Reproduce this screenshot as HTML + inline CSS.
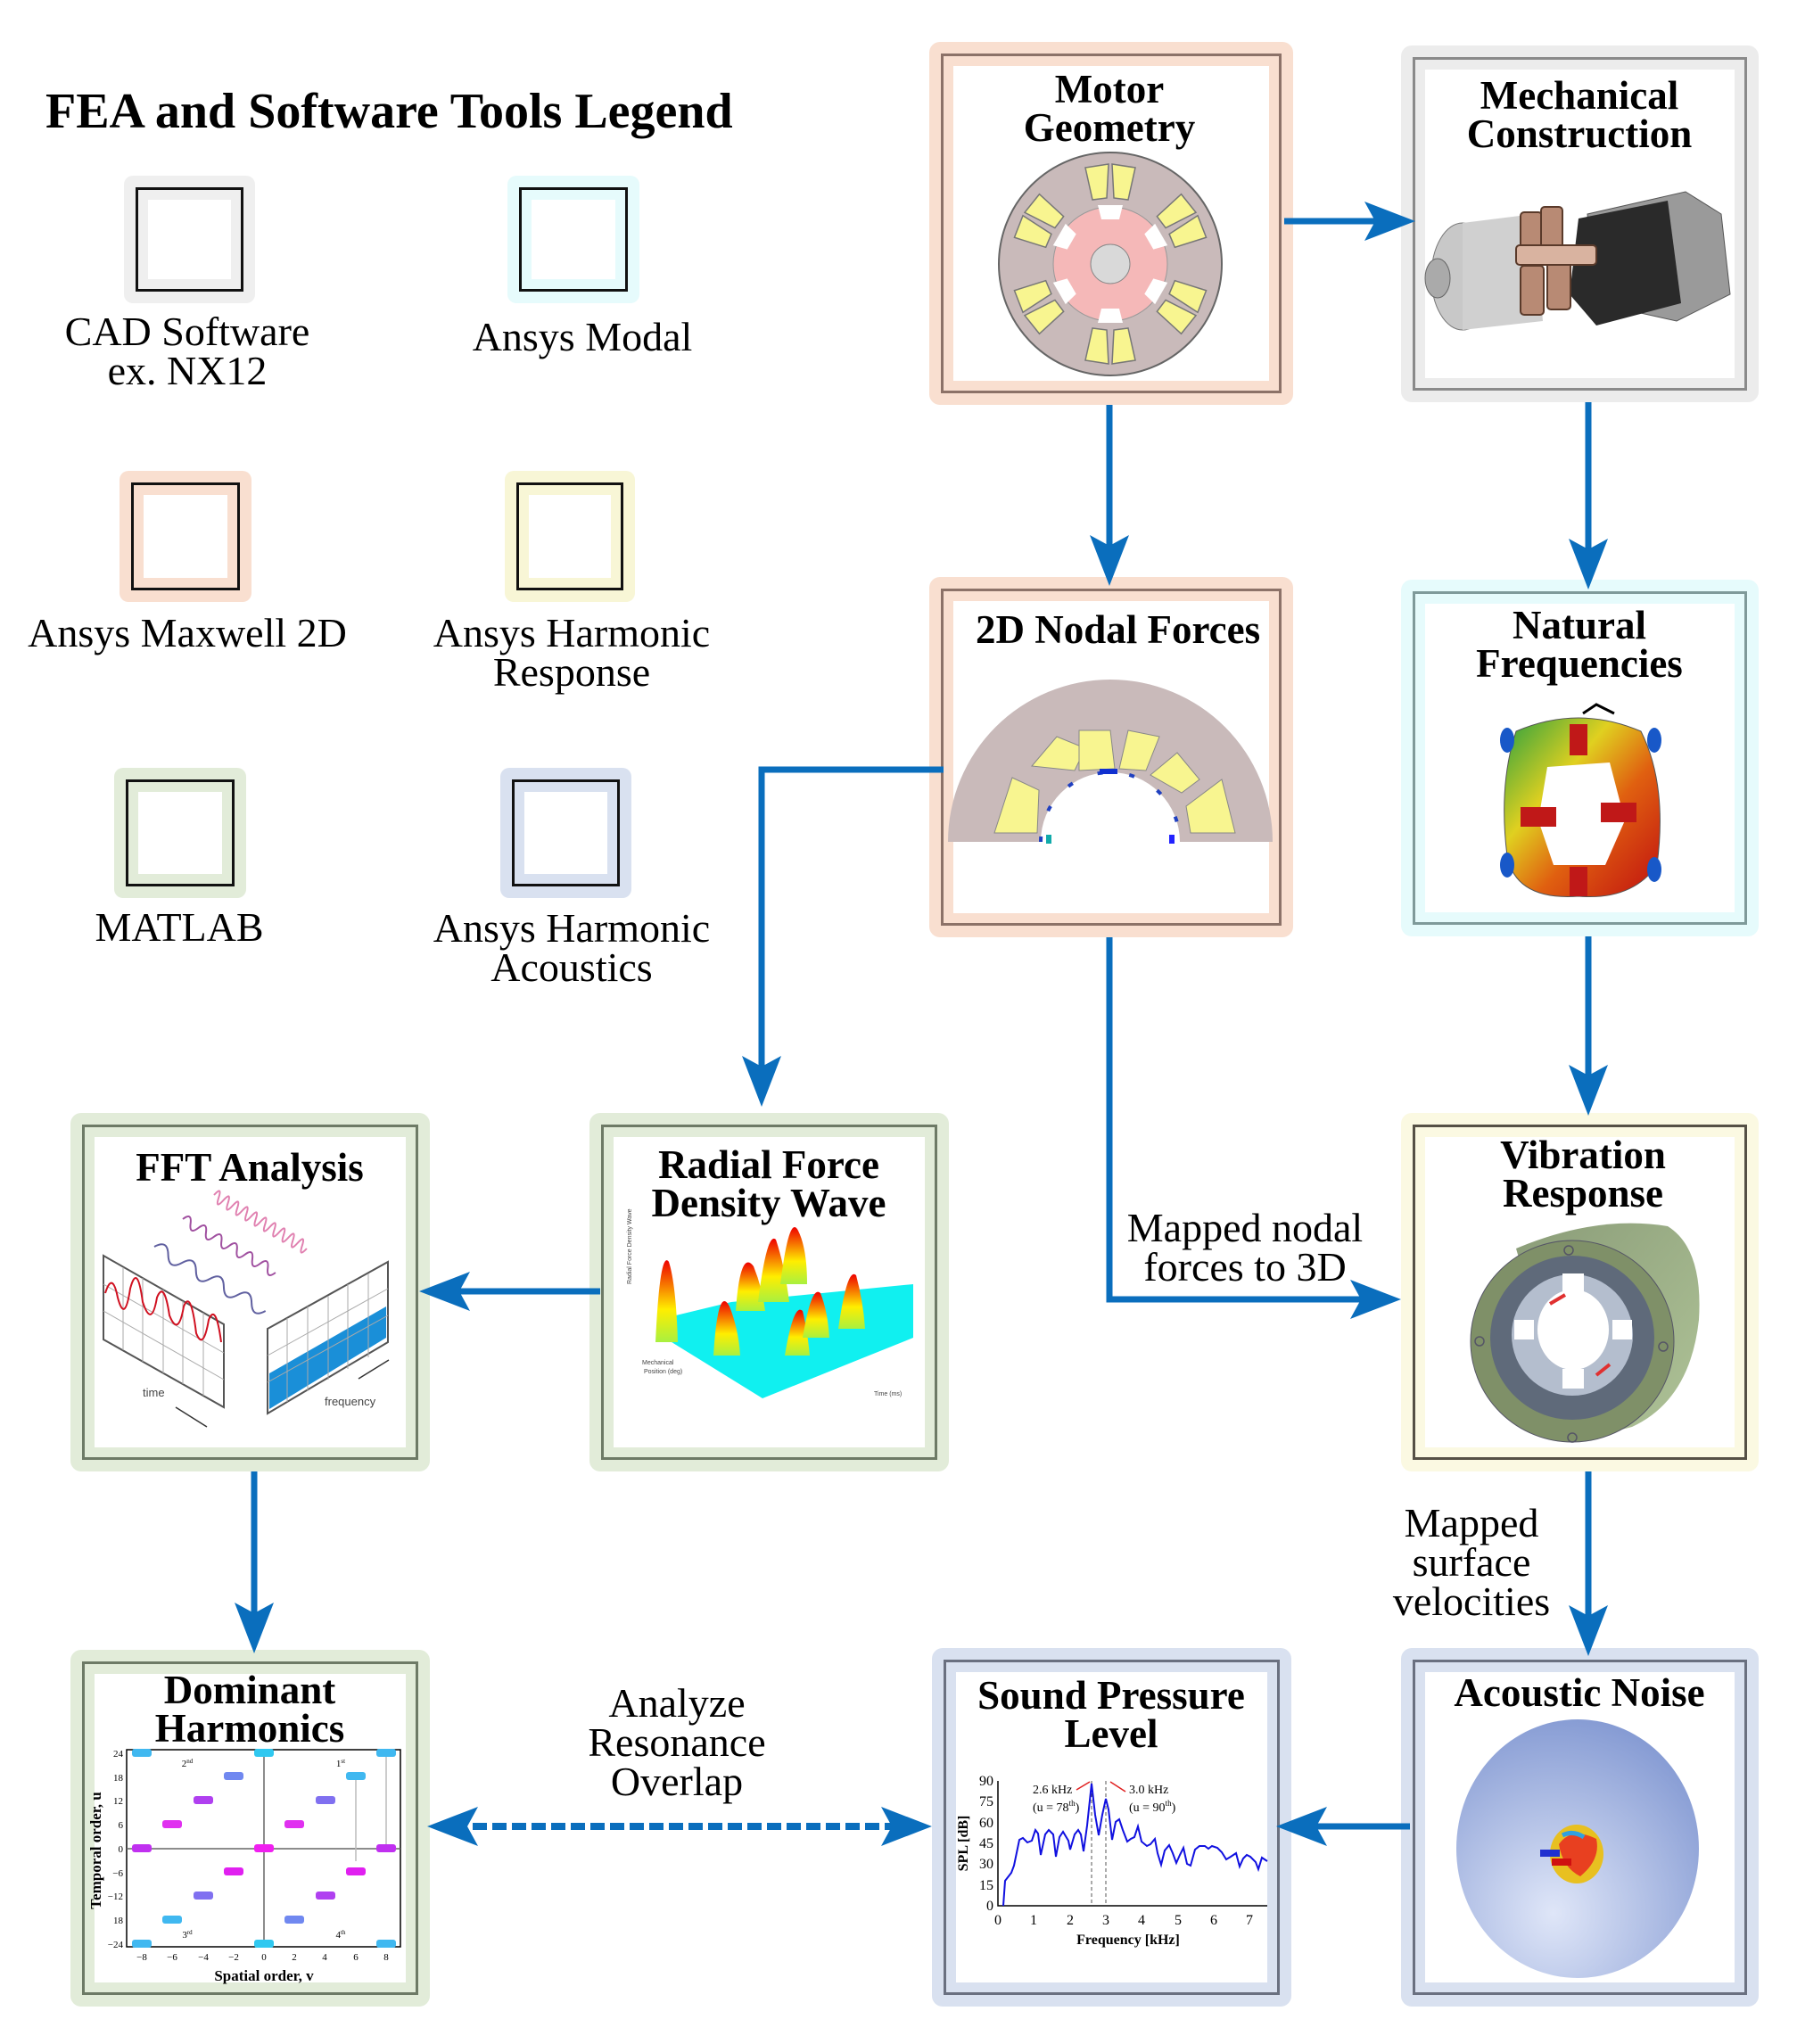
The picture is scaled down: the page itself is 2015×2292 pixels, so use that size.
<!DOCTYPE html>
<html><head><meta charset="utf-8"><style>
body{margin:0;width:2015px;height:2292px;background:#fff;position:relative;overflow:hidden;font-family:"Liberation Serif",serif;}
.box{position:absolute;border-radius:12px;box-sizing:border-box;}
.box .in{position:absolute;left:13px;top:13px;right:13px;bottom:13px;border:3px solid #777;box-sizing:border-box;}
.box .wh{position:absolute;left:11px;top:11px;right:11px;bottom:11px;background:#fff;}
.t{position:absolute;font-weight:bold;font-size:45px;line-height:43px;text-align:center;color:#000;white-space:nowrap;}
.l{position:absolute;font-size:46px;line-height:44px;text-align:center;color:#000;white-space:nowrap;}
.lg{position:absolute;border-radius:10px;}
.lg div{position:absolute;left:13px;top:13px;right:13px;bottom:13px;border:3px solid #111;}
.lg div div{left:11px;top:11px;right:11px;bottom:11px;border:none;background:#fff;}
svg{position:absolute;left:0;top:0;}
</style></head><body>

<div class="t" style="left:51px;top:97px;font-size:56px;line-height:56px;">FEA and Software Tools Legend</div>

<div class="lg" style="left:139px;top:197px;width:147px;height:143px;background:#efefef"><div style="background:#efefef"><div></div></div></div>
<div class="lg" style="left:569px;top:197px;width:148px;height:143px;background:#e6fbfc"><div style="background:#e6fbfc"><div></div></div></div>
<div class="lg" style="left:134px;top:528px;width:148px;height:147px;background:#f9dfd0"><div style="background:#f9dfd0"><div></div></div></div>
<div class="lg" style="left:566px;top:528px;width:146px;height:147px;background:#f8f6d6"><div style="background:#f8f6d6"><div></div></div></div>
<div class="lg" style="left:128px;top:861px;width:148px;height:146px;background:#e2ecd9"><div style="background:#e2ecd9"><div></div></div></div>
<div class="lg" style="left:561px;top:861px;width:147px;height:146px;background:#d9e1f0"><div style="background:#d9e1f0"><div></div></div></div>

<div class="l" style="left:60px;top:350px;width:300px;">CAD Software<br>ex. NX12</div>
<div class="l" style="left:503px;top:356px;width:300px;">Ansys Modal</div>
<div class="l" style="left:10px;top:688px;width:400px;">Ansys Maxwell 2D</div>
<div class="l" style="left:441px;top:688px;width:400px;">Ansys Harmonic<br>Response</div>
<div class="l" style="left:51px;top:1018px;width:300px;">MATLAB</div>
<div class="l" style="left:441px;top:1019px;width:400px;">Ansys Harmonic<br>Acoustics</div>

<div class="box" style="left:1042px;top:47px;width:408px;height:407px;background:#f9dfd0"><div class="in" style="border-color:#8c7268"><div class="wh"></div></div></div>
<div class="box" style="left:1571px;top:51px;width:401px;height:400px;background:#ececec"><div class="in" style="border-color:#8a8a8a"><div class="wh"></div></div></div>
<div class="box" style="left:1042px;top:647px;width:408px;height:404px;background:#f9dfd0"><div class="in" style="border-color:#8c7268"><div class="wh"></div></div></div>
<div class="box" style="left:1571px;top:650px;width:401px;height:400px;background:#e6fbfc"><div class="in" style="border-color:#7f9a9a"><div class="wh"></div></div></div>
<div class="box" style="left:79px;top:1248px;width:403px;height:402px;background:#e2ecd9"><div class="in" style="border-color:#6d7a66"><div class="wh"></div></div></div>
<div class="box" style="left:661px;top:1248px;width:403px;height:402px;background:#e2ecd9"><div class="in" style="border-color:#6d7a66"><div class="wh"></div></div></div>
<div class="box" style="left:1571px;top:1248px;width:401px;height:402px;background:#fbf9e2"><div class="in" style="border-color:#555045"><div class="wh"></div></div></div>
<div class="box" style="left:79px;top:1850px;width:403px;height:400px;background:#e2ecd9"><div class="in" style="border-color:#6d7a66"><div class="wh"></div></div></div>
<div class="box" style="left:1045px;top:1848px;width:403px;height:402px;background:#d9e1f0"><div class="in" style="border-color:#6a7080"><div class="wh"></div></div></div>
<div class="box" style="left:1571px;top:1848px;width:401px;height:402px;background:#d9e1f0"><div class="in" style="border-color:#6a7080"><div class="wh"></div></div></div>

<div class="t" style="left:1094px;top:79px;width:300px;">Motor<br>Geometry</div>
<div class="t" style="left:1621px;top:86px;width:300px;">Mechanical<br>Construction</div>
<div class="t" style="left:1094px;top:685px;width:300px;">2D Nodal Forces</div>
<div class="t" style="left:1621px;top:680px;width:300px;">Natural<br>Frequencies</div>
<div class="t" style="left:130px;top:1288px;width:300px;">FFT Analysis</div>
<div class="t" style="left:712px;top:1285px;width:300px;">Radial Force<br>Density Wave</div>
<div class="t" style="left:1625px;top:1274px;width:300px;">Vibration<br>Response</div>
<div class="t" style="left:130px;top:1874px;width:300px;">Dominant<br>Harmonics</div>
<div class="t" style="left:1096px;top:1880px;width:300px;">Sound Pressure<br>Level</div>
<div class="t" style="left:1621px;top:1877px;width:300px;">Acoustic Noise</div>

<div class="l" style="left:1246px;top:1355px;width:300px;">Mapped nodal<br>forces to 3D</div>
<div class="l" style="left:1500px;top:1686px;width:300px;">Mapped<br>surface<br>velocities</div>
<div class="l" style="left:609px;top:1888px;width:300px;">Analyze<br>Resonance<br>Overlap</div>

<svg width="2015" height="2292" viewBox="0 0 2015 2292">
<defs>
<linearGradient id="pk" x1="0" y1="1" x2="0" y2="0"><stop offset="0" stop-color="#a8f040"/><stop offset="0.4" stop-color="#ffee00"/><stop offset="1" stop-color="#ee0000"/></linearGradient>
<linearGradient id="nf" x1="0" y1="0" x2="1" y2="1"><stop offset="0" stop-color="#2aa040"/><stop offset="0.35" stop-color="#e0d020"/><stop offset="0.6" stop-color="#e06010"/><stop offset="1" stop-color="#c01010"/></linearGradient>
<radialGradient id="ac" cx="0.4" cy="0.75" r="0.8"><stop offset="0" stop-color="#dfe6f8"/><stop offset="1" stop-color="#8298d2"/></radialGradient>
<linearGradient id="gr" x1="0" y1="0" x2="1" y2="1"><stop offset="0" stop-color="#8a9c78"/><stop offset="1" stop-color="#b0c498"/></linearGradient>
</defs>

<g stroke="#0a6ebd" stroke-width="7" fill="none">
<path d="M1440 248 H1560"/>
<path d="M1244 454 V630"/>
<path d="M1781 451 V635"/>
<path d="M1058 863 H854 V1215"/>
<path d="M1244 1051 V1457 H1545"/>
<path d="M1781 1050 V1225"/>
<path d="M673 1448 H495"/>
<path d="M285 1650 V1828"/>
<path d="M1781 1650 V1830"/>
<path d="M1581 2048 H1455"/>
<path d="M508 2048 H1018" stroke-dasharray="16 6" stroke-width="8"/>
</g>
<g fill="#0a6ebd">
<path d="M1587 248 L1530 226 L1542 248 L1530 270Z"/>
<path d="M1244 657 L1222 600 L1244 612 L1266 600Z"/>
<path d="M1781 661 L1759 604 L1781 616 L1803 604Z"/>
<path d="M854 1241 L832 1184 L854 1196 L876 1184Z"/>
<path d="M1571 1457 L1514 1435 L1526 1457 L1514 1479Z"/>
<path d="M1781 1251 L1759 1194 L1781 1206 L1803 1194Z"/>
<path d="M470 1448 L527 1426 L515 1448 L527 1470Z"/>
<path d="M285 1854 L263 1797 L285 1809 L307 1797Z"/>
<path d="M1781 1857 L1759 1800 L1781 1812 L1803 1800Z"/>
<path d="M1431 2048 L1488 2026 L1476 2048 L1488 2070Z"/>
<path d="M479 2048 L536 2026 L524 2048 L536 2070Z"/>
<path d="M1045 2048 L988 2026 L1000 2048 L988 2070Z"/>
</g>

<g transform="translate(1245,296)">
<ellipse rx="125" ry="125" fill="#c9baba" stroke="#666" stroke-width="2"/>
<g fill="#f8f590" stroke="#777" stroke-width="1.5">
<g id="sl"><path d="M-20 -72 L-28 -108 L-2 -112 L-4 -74Z"/><path d="M4 -74 L2 -112 L28 -108 L20 -72Z"/></g>
<use href="#sl" transform="rotate(60)"/><use href="#sl" transform="rotate(120)"/><use href="#sl" transform="rotate(180)"/><use href="#sl" transform="rotate(240)"/><use href="#sl" transform="rotate(300)"/>
</g>
<circle r="64" fill="#f5b8b8" stroke="#999"/>
<g fill="#fff"><g id="nt"><path d="M-14 -66 L14 -66 L10 -50 L-10 -50Z"/></g>
<use href="#nt" transform="rotate(60)"/><use href="#nt" transform="rotate(120)"/><use href="#nt" transform="rotate(180)"/><use href="#nt" transform="rotate(240)"/><use href="#nt" transform="rotate(300)"/></g>
<circle r="22" fill="#d9d9d9" stroke="#888"/>
</g>

<g>
<path d="M1780 240 L1890 215 L1930 240 L1940 330 L1880 360 L1790 340Z" fill="#9a9a9a" stroke="#555"/>
<path d="M1770 245 L1870 225 L1885 340 L1790 365 L1760 330Z" fill="#2a2a2a"/>
<ellipse cx="1640" cy="310" rx="35" ry="60" fill="#c8c8c8" stroke="#777"/>
<path d="M1640 250 L1720 240 L1730 360 L1640 370Z" fill="#d0d0d0"/>
<ellipse cx="1612" cy="312" rx="14" ry="22" fill="#aaa" stroke="#666"/>
<g fill="#b88a74" stroke="#5a3a2a" stroke-width="2">
<rect x="1705" y="238" width="24" height="60" rx="4"/><rect x="1728" y="232" width="24" height="60" rx="4"/>
<rect x="1705" y="298" width="26" height="55" rx="4"/><rect x="1735" y="292" width="26" height="55" rx="4"/>
<rect x="1700" y="275" width="90" height="22" rx="4" fill="#d9b3a0"/>
</g>
</g>

<g transform="translate(1245,944)">
<path d="M-182 0 A182 182 0 0 1 182 0 L78 0 A78 78 0 0 0 -78 0Z" fill="#c9baba"/>
<g fill="#f8f590" stroke="#888">
<path d="M-130 -10 L-110 -72 L-80 -58 L-82 -10Z"/>
<path d="M-88 -85 L-60 -118 L-28 -105 L-40 -80Z"/>
<path d="M-10 -80 L-10 -125 L25 -125 L30 -82Z" transform="translate(-25 0)"/>
<path d="M10 -82 L20 -125 L55 -118 L40 -80Z"/>
<path d="M45 -75 L75 -100 L100 -70 L80 -55Z"/>
<path d="M85 -40 L125 -70 L140 -10 L90 -10Z"/>
</g>
<path d="M-78 0 A78 78 0 0 1 78 0" fill="none" stroke="#2040c0" stroke-width="4" stroke-dasharray="6 30"/>
<rect x="-72" y="-8" width="6" height="10" fill="#1aa"/><rect x="66" y="-8" width="6" height="10" fill="#22f"/>
<rect x="-12" y="-82" width="20" height="6" fill="#1030d0"/>
</g>

<g>
<path d="M1700 820 Q1770 790 1840 820 Q1870 880 1858 970 Q1830 1010 1770 1005 Q1700 1010 1690 960 Q1680 880 1700 820Z" fill="url(#nf)" stroke="#555"/>
<path d="M1735 860 L1805 855 L1822 920 L1800 970 L1742 970 L1725 920Z" fill="#fff"/>
<g fill="#c01818"><rect x="1760" y="812" width="20" height="35"/><rect x="1795" y="900" width="40" height="22"/><rect x="1705" y="905" width="40" height="22"/><rect x="1760" y="972" width="20" height="33"/></g>
<g fill="#1858c8"><ellipse cx="1690" cy="830" rx="8" ry="14"/><ellipse cx="1855" cy="830" rx="8" ry="14"/><ellipse cx="1690" cy="970" rx="8" ry="14"/><ellipse cx="1855" cy="975" rx="8" ry="14"/></g>
<path d="M1775 800 L1790 790 L1810 800" stroke="#000" stroke-width="3" fill="none"/>
</g>

<g stroke="#555" stroke-width="2" fill="#fff">
<path d="M116 1408 L251 1485 L251 1578 L116 1502Z"/>
<path d="M300 1490 L435 1415 L435 1505 L300 1585Z"/>
</g>
<path d="M302 1575 L302 1540 L433 1465 L433 1500 L302 1580Z" fill="#1a8fd8"/>
<g stroke="#aaa" stroke-width="1" fill="none">
<path d="M138 1421 V1514 M160 1433 V1527 M183 1446 V1540 M205 1459 V1552 M228 1472 V1565 M116 1440 L251 1517 M116 1470 L251 1547"/>
<path d="M322 1478 V1572 M345 1465 V1560 M368 1453 V1547 M390 1440 V1535 M413 1428 V1522 M300 1520 L435 1445 M300 1550 L435 1475"/>
</g>
<path d="M118 1450 q8 -25 14 5 q8 30 14 -10 q8 -30 14 15 q10 30 16 -5 q8 -20 14 20 q10 25 16 -10 q8 -20 14 30 q8 20 14 -15 q8 -20 14 25" stroke="#d01020" stroke-width="2" fill="none"/>
<path d="M173 1398 q9 -15 18 0 t18 0 t18 0 t18 0 t18 0 t18 0 t18 0 t18 0" transform="rotate(30 173 1398)" stroke="#6060a0" stroke-width="2" fill="none"/>
<path d="M205 1367 q5 -12 10 0 t10 0 t10 0 t10 0 t10 0 t10 0 t10 0 t10 0 t10 0 t10 0 t10 0 t10 0" transform="rotate(30 205 1367)" stroke="#a050a0" stroke-width="2" fill="none"/>
<path d="M240 1340 q3 -14 6 0 t6 0 t6 0 t6 0 t6 0 t6 0 t6 0 t6 0 t6 0 t6 0 t6 0 t6 0 t6 0 t6 0 t6 0 t6 0 t6 0 t6 0 t6 0 t6 0" transform="rotate(30 240 1340)" stroke="#e080b0" stroke-width="2" fill="none"/>
<text x="160" y="1566" font-family="Liberation Sans" font-size="13" fill="#444">time</text>
<text x="364" y="1576" font-family="Liberation Sans" font-size="13" fill="#444">frequency</text>
<path d="M197 1578 L232 1600 M402 1546 L436 1525" stroke="#333" stroke-width="1.5"/>

<path d="M737 1480 L820 1460 L1024 1440 L1024 1500 L855 1568 L737 1495Z" fill="#10f0f0"/>
<g fill="url(#pk)">
<path d="M735 1505 Q740 1400 750 1415 Q758 1440 760 1505Z"/>
<path d="M800 1520 Q805 1440 818 1465 Q828 1490 830 1520Z"/>
<path d="M825 1470 Q830 1400 845 1420 Q855 1445 858 1470Z"/>
<path d="M850 1460 Q860 1380 870 1390 Q880 1420 885 1460Z"/>
<path d="M875 1440 Q885 1360 895 1380 Q905 1400 905 1440Z"/>
<path d="M880 1520 Q890 1460 900 1470 Q905 1490 908 1520Z"/>
<path d="M900 1500 Q910 1440 920 1450 Q928 1470 930 1500Z"/>
<path d="M940 1490 Q950 1420 960 1430 Q968 1460 970 1490Z"/>
</g>
<g font-family="Liberation Sans" font-size="7" fill="#444">
<text x="720" y="1530">Mechanical</text><text x="722" y="1540">Position (deg)</text><text x="980" y="1565">Time (ms)</text>
<text x="708" y="1440" transform="rotate(-90 708 1440)">Radial Force Density Wave</text>
</g>

<!-- Vibration -->
<g>
<path d="M1700 1400 Q1790 1362 1870 1375 Q1910 1400 1905 1480 Q1895 1570 1830 1600 L1763 1617 Z" fill="url(#gr)"/>
<ellipse cx="1763" cy="1504" rx="114" ry="113" fill="#7f9068" stroke="#556"/>
<ellipse cx="1763" cy="1500" rx="92" ry="92" fill="#5f6a7a"/>
<ellipse cx="1763" cy="1497" rx="68" ry="68" fill="#b4bece"/>
<ellipse cx="1764" cy="1491" rx="40" ry="45" fill="#fff"/>
<g fill="#fff"><rect x="1752" y="1428" width="24" height="22"/><rect x="1752" y="1535" width="24" height="22"/><rect x="1808" y="1480" width="22" height="22"/><rect x="1698" y="1480" width="22" height="22"/></g>
<g fill="none" stroke="#556" stroke-width="1.5"><circle cx="1759" cy="1329" r="0"/><circle cx="1759" cy="1402" r="5"/><circle cx="1659" cy="1504" r="5"/><circle cx="1865" cy="1510" r="5"/><circle cx="1763" cy="1612" r="5"/></g>
<path d="M1738 1462 L1755 1452 M1790 1542 L1805 1530" stroke="#e03030" stroke-width="4"/>
</g>

<!-- Acoustic -->
<ellipse cx="1769" cy="2073" rx="136" ry="145" fill="url(#ac)"/>
<ellipse cx="1768" cy="2079" rx="30" ry="33" fill="#e8c020"/>
<path d="M1748 2068 Q1762 2048 1790 2062 Q1795 2085 1772 2104 Q1752 2094 1748 2068Z" fill="#e84020"/>
<path d="M1752 2058 Q1764 2052 1776 2060" stroke="#30a0e0" stroke-width="5" fill="none"/>
<rect x="1727" y="2074" width="22" height="8" fill="#2030d0"/><rect x="1740" y="2084" width="22" height="8" fill="#d01010"/>

<g font-family="Liberation Serif" font-size="16" fill="#000">
<path d="M1119 1997 V2137 H1421" stroke="#000" stroke-width="1.5" fill="none"/>
<g text-anchor="end"><text x="1114" y="2002">90</text><text x="1114" y="2025">75</text><text x="1114" y="2049">60</text><text x="1114" y="2072">45</text><text x="1114" y="2095">30</text><text x="1114" y="2119">15</text><text x="1114" y="2142">0</text></g>
<g text-anchor="middle"><text x="1119" y="2158">0</text><text x="1159" y="2158">1</text><text x="1200" y="2158">2</text><text x="1240" y="2158">3</text><text x="1280" y="2158">4</text><text x="1321" y="2158">5</text><text x="1361" y="2158">6</text><text x="1401" y="2158">7</text></g>
<text x="1265" y="2180" text-anchor="middle" font-weight="bold">Frequency [kHz]</text>
<text x="1085" y="2067" font-weight="bold" transform="rotate(-90 1085 2067)" text-anchor="middle">SPL [dB]</text>
<text x="1158" y="2011" font-size="14">2.6 kHz</text><text x="1158" y="2031" font-size="14">(u = 78<tspan font-size="9" dy="-6">th</tspan><tspan dy="6">)</tspan></text>
<text x="1266" y="2011" font-size="14">3.0 kHz</text><text x="1266" y="2031" font-size="14">(u = 90<tspan font-size="9" dy="-6">th</tspan><tspan dy="6">)</tspan></text>
</g>
<path d="M1224 1997 V2137 M1240 1997 V2137" stroke="#555" stroke-dasharray="4 3"/>
<path d="M1207 2007 L1222 1998 M1262 2009 L1245 1998" stroke="#e02020" stroke-width="1.5"/>
<polyline fill="none" stroke="#1010e0" stroke-width="2" points="1125,2137 1127,2109 1134,2100 1137,2092 1143,2063 1147,2061 1152,2066 1157,2064 1161,2052 1164,2056 1167,2080 1172,2057 1176,2052 1181,2057 1184,2082 1188,2060 1192,2054 1198,2064 1200,2074 1205,2057 1209,2052 1212,2057 1215,2076 1219,2047 1224,2000 1228,2035 1232,2058 1236,2035 1240,2017 1243,2029 1247,2063 1251,2043 1255,2040 1259,2052 1264,2065 1268,2062 1272,2060 1276,2048 1280,2065 1286,2070 1290,2068 1295,2062 1298,2078 1302,2091 1306,2075 1311,2069 1315,2078 1319,2089 1323,2080 1327,2072 1331,2090 1335,2092 1340,2074 1345,2070 1351,2070 1355,2073 1359,2070 1365,2072 1370,2077 1375,2085 1380,2082 1386,2078 1390,2093 1394,2084 1398,2080 1402,2082 1408,2088 1411,2096 1415,2083 1421,2087"/>

<g>
<rect x="142" y="1962" width="307" height="221" fill="none" stroke="#000" stroke-width="1.5"/>
<path d="M142 2073 H449 M296 1966 V2180" stroke="#666" stroke-width="1.5"/>
<path d="M399 1990 V2087 M433 1966 V2073" stroke="#bbb" stroke-width="1.5"/>
<g font-family="Liberation Serif" font-size="11" text-anchor="end">
<text x="138" y="1970">24</text><text x="138" y="1997">18</text><text x="138" y="2023">12</text><text x="138" y="2050">6</text><text x="138" y="2077">0</text><text x="138" y="2104">−6</text><text x="138" y="2130">−12</text><text x="138" y="2157">18</text><text x="138" y="2184">−24</text>
</g>
<g font-family="Liberation Serif" font-size="11" text-anchor="middle">
<text x="159" y="2198">−8</text><text x="193" y="2198">−6</text><text x="228" y="2198">−4</text><text x="262" y="2198">−2</text><text x="296" y="2198">0</text><text x="330" y="2198">2</text><text x="364" y="2198">4</text><text x="399" y="2198">6</text><text x="433" y="2198">8</text>
<text x="210" y="1981">2<tspan font-size="7" dy="-4">nd</tspan></text><text x="382" y="1981">1<tspan font-size="7" dy="-4">st</tspan></text>
<text x="210" y="2173">3<tspan font-size="7" dy="-4">rd</tspan></text><text x="382" y="2173">4<tspan font-size="7" dy="-4">th</tspan></text>
</g>
<text x="296" y="2221" font-family="Liberation Serif" font-size="17" font-weight="bold" text-anchor="middle">Spatial order, v</text>
<text x="113" y="2075" font-family="Liberation Serif" font-size="17" font-weight="bold" text-anchor="middle" transform="rotate(-90 113 2075)">Temporal order, u</text>
<g>
<rect x="148" y="1961" width="22" height="9" rx="3" fill="#40b8f0"/><rect x="285" y="1961" width="22" height="9" rx="3" fill="#30c8f0"/><rect x="422" y="1961" width="22" height="9" rx="3" fill="#40b8f0"/>
<rect x="251" y="1987" width="22" height="9" rx="3" fill="#7088f0"/><rect x="388" y="1987" width="22" height="9" rx="3" fill="#40b8f0"/>
<rect x="217" y="2014" width="22" height="9" rx="3" fill="#b040f0"/><rect x="354" y="2014" width="22" height="9" rx="3" fill="#8070f0"/>
<rect x="182" y="2041" width="22" height="9" rx="3" fill="#e030f0"/><rect x="319" y="2041" width="22" height="9" rx="3" fill="#e030f0"/>
<rect x="148" y="2068" width="22" height="9" rx="3" fill="#c030f0"/><rect x="285" y="2068" width="22" height="9" rx="3" fill="#f020f0"/><rect x="422" y="2068" width="22" height="9" rx="3" fill="#c030f0"/>
<rect x="251" y="2094" width="22" height="9" rx="3" fill="#e020f0"/><rect x="388" y="2094" width="22" height="9" rx="3" fill="#e020f0"/>
<rect x="217" y="2121" width="22" height="9" rx="3" fill="#8070f0"/><rect x="354" y="2121" width="22" height="9" rx="3" fill="#b040f0"/>
<rect x="182" y="2148" width="22" height="9" rx="3" fill="#40b8f0"/><rect x="319" y="2148" width="22" height="9" rx="3" fill="#7088f0"/>
<rect x="148" y="2175" width="22" height="9" rx="3" fill="#40b8f0"/><rect x="285" y="2175" width="22" height="9" rx="3" fill="#30c8f0"/><rect x="422" y="2175" width="22" height="9" rx="3" fill="#40b8f0"/>
</g>
</g>
</svg>
</body></html>
